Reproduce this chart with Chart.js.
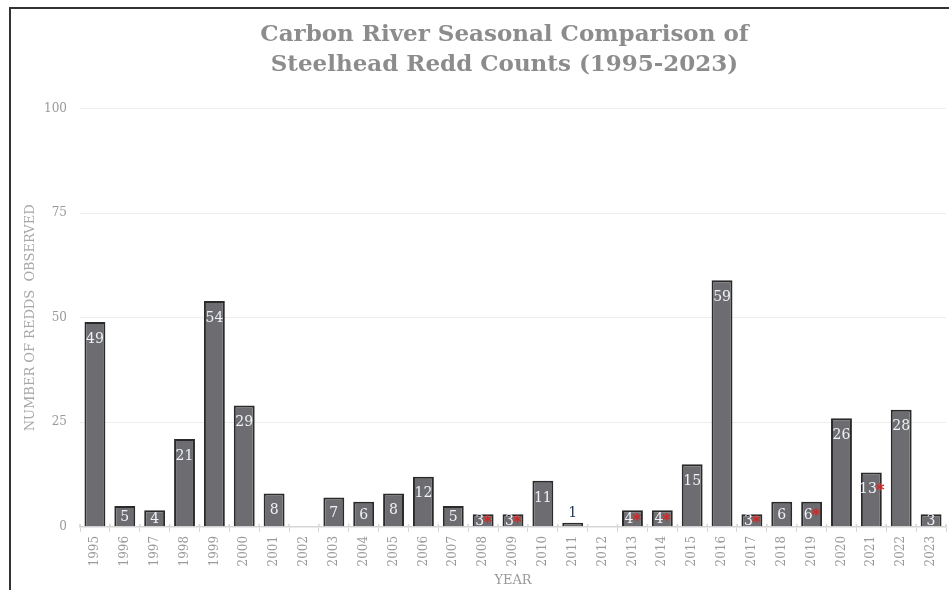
<!DOCTYPE html>
<html>
<head>
<meta charset="utf-8">
<script src="https://cdn.jsdelivr.net/npm/chart.js@4.4.1/dist/chart.umd.min.js"></script>
<style>
  html, body { margin: 0; padding: 0; background: #fff; overflow: hidden; }
  #frame {
    position: absolute; left: 9px; top: 7px;
    width: 1000px; height: 600px;
    border-left: 2px solid #333; border-top: 2px solid #333;
  }
  #chart { display: block; }
</style>
</head>
<body>
<div id="frame"><canvas id="chart" width="990" height="579"></canvas></div>
<script>
// redd counts per season, null = no survey result
const years = ['1995','1996','1997','1998','1999','2000','2001','2002','2003','2004',
  '2005','2006','2007','2008','2009','2010','2011','2012','2013','2014',
  '2015','2016','2017','2018','2019','2020','2021','2022','2023'];
const redds = [49, 5, 4, 21, 54, 29, 8, null, 7, 6,
  8, 12, 5, 3, 3, 11, 1, null, 4, 4,
  15, 59, 3, 6, 6, 26, 13, 28, 3];
// seasons marked with a red asterisk
const flagged = ['2008','2009','2013','2014','2017','2019','2021'];
const yTicks = [0, 25, 50, 75, 100];

const SERIF = '"DejaVu Serif", "Liberation Serif", serif';
const LABEL_FONT = '14px ' + SERIF;
const STAR_FONT = 'bold 17px ' + SERIF;

// value labels drawn inside the bars (or above when the bar is too short)
const barLabels = {
  id: 'barLabels',
  afterLayout(chart) {
    // nudge the title a bit right of the canvas centre
    const t = chart.titleBlock;
    if (t) t.left += 40;
  },
  afterDatasetsDraw(chart) {
    const ctx = chart.ctx;
    const meta = chart.getDatasetMeta(0);
    ctx.save();
    ctx.textBaseline = 'middle';
    ctx.textAlign = 'left';
    meta.data.forEach((bar, i) => {
      const v = redds[i];
      if (v === null) return;
      const txt = String(v);
      const star = flagged.includes(years[i]);
      const h = bar.base - bar.y;
      let y, color;
      if (h < 8) { y = bar.y - 9; color = '#1f3a68'; }
      else { y = Math.min(bar.y + 17, (bar.y + bar.base) / 2 + 1); color = '#eef2f8'; }
      ctx.font = LABEL_FONT;
      const w = ctx.measureText(txt).width;
      ctx.font = STAR_FONT;
      const sw = star ? ctx.measureText('*').width - 2 : 0;
      const x0 = bar.x - (w + sw) / 2;
      ctx.font = LABEL_FONT;
      ctx.fillStyle = color;
      ctx.fillText(txt, x0, y);
      if (star) {
        ctx.font = STAR_FONT;
        ctx.fillStyle = '#e0201c';
        ctx.fillText('*', x0 + w - 1, y + 1);
      }
    });
    ctx.restore();
  }
};

// small tick marks poking above the x axis at each category boundary
const axisTicks = {
  id: 'axisTicks',
  afterDraw(chart) {
    const ctx = chart.ctx;
    const x = chart.scales.x;
    const y0 = chart.chartArea.bottom;
    const step = (x.right - x.left) / years.length;
    ctx.save();
    ctx.strokeStyle = '#d6d6d6';
    ctx.lineWidth = 1.5;
    for (let i = 0; i <= years.length; i++) {
      const px = x.left + i * step;
      ctx.beginPath();
      ctx.moveTo(px, y0 - 3);
      ctx.lineTo(px, y0);
      ctx.stroke();
    }
    ctx.restore();
  }
};

new Chart(document.getElementById('chart').getContext('2d'), {
  type: 'bar',
  data: {
    labels: years,
    datasets: [{
      data: redds,
      backgroundColor: '#6d6d71',
      borderColor: '#2a2a2a',
      borderWidth: 2,
      barPercentage: 0.7,
      categoryPercentage: 1.0
    }]
  },
  options: {
    responsive: false,
    animation: false,
    layout: { padding: { left: 12, right: 55, top: 0, bottom: 0 } },
    plugins: {
      legend: { display: false },
      tooltip: { enabled: false },
      title: {
        display: true,
        text: ['Carbon River Seasonal Comparison of', 'Steelhead Redd Counts (1995-2023)'],
        color: '#8c8c8c',
        font: { family: SERIF, size: 23, weight: 'bold', lineHeight: 1.3 },
        padding: { top: 11, bottom: 29 }
      }
    },
    scales: {
      x: {
        offset: true,
        grid: { offset: true, drawOnChartArea: false, tickLength: 5, color: '#d6d6d6' },
        border: { color: '#d6d6d6', width: 1.5 },
        ticks: {
          minRotation: 90, maxRotation: 90, autoSkip: false,
          color: '#9a9a9a', padding: 4,
          font: { family: SERIF, size: 12 }
        },
        title: {
          display: true, text: 'YEAR', color: '#9a9a9a',
          font: { family: SERIF, size: 13 }, padding: { top: 2, bottom: 0 }
        }
      },
      y: {
        min: 0, max: 100,
        afterBuildTicks: s => { s.ticks = yTicks.map(v => ({ value: v })); },
        afterFit: s => { s.width = 57; },
        grid: { color: '#eeeeee', drawTicks: false },
        border: { display: false },
        ticks: { color: '#9a9a9a', padding: 13, font: { family: SERIF, size: 12 } },
        title: {
          display: true, text: 'NUMBER OF REDDS  OBSERVED', color: '#a8a8a8',
          font: { family: SERIF, size: 13 }, padding: { top: 0, bottom: 8 }
        }
      }
    }
  },
  plugins: [barLabels, axisTicks]
});
</script>
</body>
</html>
